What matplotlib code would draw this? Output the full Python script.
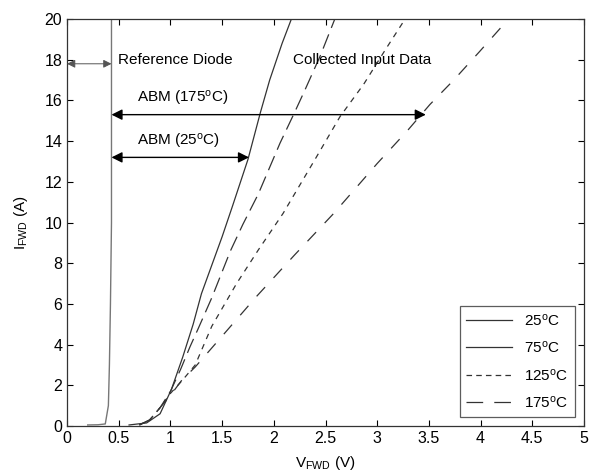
import numpy as np
import matplotlib
matplotlib.use('Agg')
from matplotlib import pyplot as plt
from matplotlib.lines import Line2D

plt.rcParams['font.family'] = ['Liberation Sans', 'DejaVu Sans']
plt.rcParams['mathtext.fontset'] = 'custom'
plt.rcParams['mathtext.rm'] = 'Liberation Sans'
plt.rcParams['mathtext.it'] = 'Liberation Sans'
plt.rcParams['lines.scale_dashes'] = False

# reference diode
v_ref = [0.2, 0.30, 0.37, 0.40, 0.41, 0.42, 0.43, 0.43]
i_ref = [0.05, 0.06, 0.1, 1.0, 3.0, 6.0, 10.0, 20.0]

# collected input data
v_25 = [0.6, 0.77, 0.9, 1.01, 1.12, 1.22, 1.30, 1.40, 1.50, 1.60, 1.75, 1.87, 1.96, 2.08, 2.17]
i_25 = [0.05, 0.15, 0.6, 1.8, 3.4, 5.0, 6.5, 7.9, 9.3, 10.8, 13.1, 15.4, 17.0, 18.8, 20.0]
v_75 = [0.7, 0.8, 0.9, 1.0, 1.1, 1.19, 1.27, 1.40, 1.58, 1.70, 1.85, 2.06, 2.20, 2.30, 2.45, 2.59]
i_75 = [0.05, 0.3, 0.9, 1.7, 2.8, 3.9, 4.8, 6.3, 8.6, 9.9, 11.4, 13.9, 15.4, 16.5, 18.2, 20.0]
v_125 = [0.7, 0.8, 0.9, 1.0, 1.125, 1.24, 1.40, 1.64, 1.85, 2.09, 2.41, 2.64, 2.87, 3.08, 3.27]
i_125 = [0.05, 0.3, 0.9, 1.6, 2.3, 3.0, 4.9, 7.0, 8.65, 10.45, 13.2, 15.2, 16.8, 18.5, 20.0]
v_175 = [0.7, 0.8, 0.9, 1.0, 1.11, 1.24, 1.48, 1.83, 2.2, 2.58, 3.0, 3.29, 3.51, 3.74, 3.99, 4.27]
i_175 = [0.05, 0.3, 0.9, 1.5, 2.25, 2.9, 4.3, 6.35, 8.4, 10.45, 12.9, 14.5, 15.8, 17.0, 18.4, 20.0]

labels = ['25$^{\\mathrm{o}}$C', '75$^{\\mathrm{o}}$C', '125$^{\\mathrm{o}}$C', '175$^{\\mathrm{o}}$C']

fig = plt.figure(figsize=(5.9, 4.72), dpi=100)
ax = fig.add_axes([0.1136, 0.0975, 0.8762, 0.8622])

lc = '#333333'
ax.plot(v_ref, i_ref, color='#777777', lw=1.0)
ax.plot(v_25, i_25, color=lc, lw=0.9)
ax.plot(v_75, i_75, color=lc, lw=0.9, dashes=(11, 5))
ax.plot(v_125, i_125, color=lc, lw=0.9, dashes=(4, 4))
ax.plot(v_175, i_175, color=lc, lw=0.9, dashes=(9, 9))

# arrows
ap = dict(arrowstyle='<|-|>', mutation_scale=16, color='k', lw=1.0, shrinkA=0, shrinkB=0)
ax.annotate('', xy=(0.43, 15.3), xytext=(3.47, 15.3), arrowprops=ap)
ax.annotate('', xy=(0.43, 13.2), xytext=(1.76, 13.2), arrowprops=ap)
ap2 = dict(arrowstyle='<|-|>', mutation_scale=12, color='#555555', lw=0.7, shrinkA=0, shrinkB=0)
ax.annotate('', xy=(0.0, 17.8), xytext=(0.43, 17.8), arrowprops=ap2)

fs = 11
ax.text(0.49, 18.0, 'Reference Diode', fontsize=fs, va='center')
ax.text(2.19, 18.0, 'Collected Input Data', fontsize=fs, va='center')
ax.text(0.68, 16.1, 'ABM (175$^{\\mathrm{o}}$C)', fontsize=fs, va='center')
ax.text(0.68, 14.0, 'ABM (25$^{\\mathrm{o}}$C)', fontsize=fs, va='center')

ax.set_xlim(0, 5)
ax.set_ylim(0, 20)
ax.set_xticks(np.arange(0, 5.01, 0.5))
ax.set_xticklabels(['0', '0.5', '1', '1.5', '2', '2.5', '3', '3.5', '4', '4.5', '5'])
ax.set_yticks(np.arange(0, 21, 2))
ax.tick_params(direction='in', top=True, right=True, labelsize=11.5, length=4.5, width=0.8)
for s in ax.spines.values():
    s.set_linewidth(0.9)
    s.set_color('#333333')
ax.set_xlabel('V$_{\\mathrm{FWD}}$ (V)', fontsize=fs, labelpad=6)
ax.set_ylabel('I$_{\\mathrm{FWD}}$ (A)', fontsize=fs, labelpad=10)

handles = [Line2D([], [], color=lc, lw=0.9),
           Line2D([], [], color=lc, lw=0.9),
           Line2D([], [], color=lc, lw=0.9, dashes=(4, 3)),
           Line2D([], [], color=lc, lw=0.9, dashes=(12, 8))]
leg = ax.legend(handles, labels, loc='lower right', fontsize=fs, frameon=True, fancybox=False,
                edgecolor='#333333', handlelength=3.0, labelspacing=0.75, borderaxespad=0.6)
leg.get_frame().set_linewidth(0.9)

fig.savefig('out.png', dpi=100)
